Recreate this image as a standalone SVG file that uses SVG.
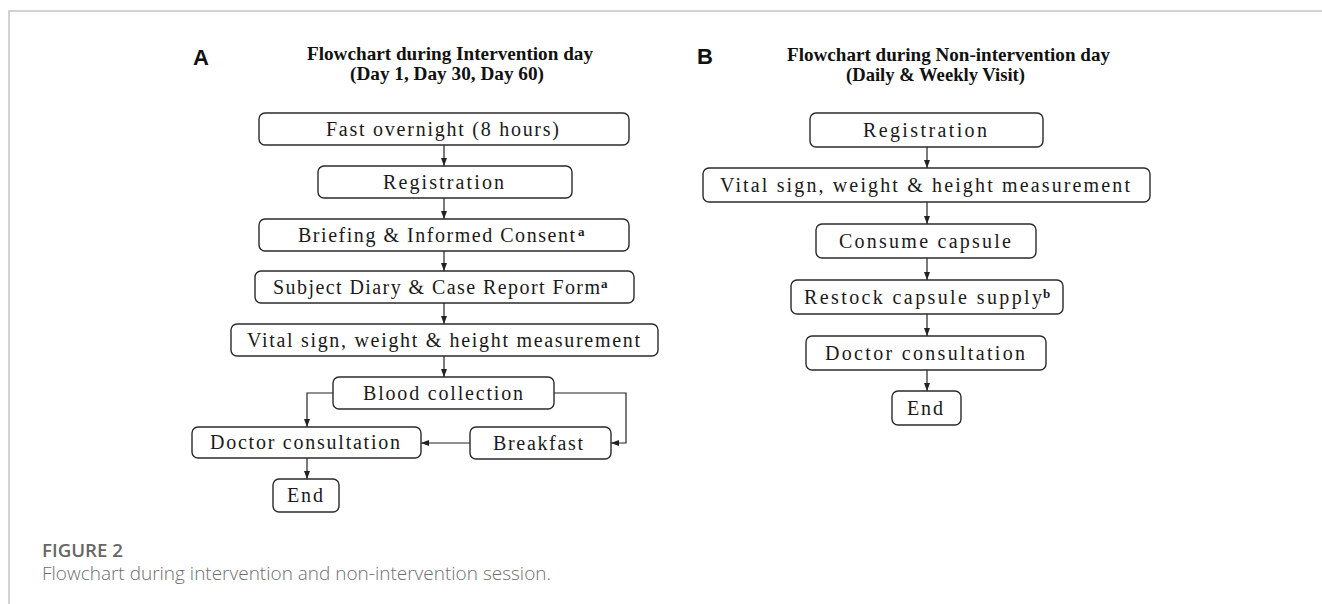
<svg xmlns="http://www.w3.org/2000/svg" width="1322" height="604" viewBox="0 0 1322 604">
<defs>
<style>
.frame{stroke:#c4c4c4;stroke-width:1.5;fill:none}
.box{fill:#fff;stroke:#2a2a2a;stroke-width:1.4}
.t{font-family:"Liberation Serif","Times New Roman",serif;font-size:20px;fill:#1a1a1a}
.sup{font-family:"Liberation Serif","Times New Roman",serif;font-size:13px;font-weight:bold;fill:#1a1a1a}
.title{font-family:"Liberation Serif","Times New Roman",serif;font-size:19px;font-weight:bold;fill:#111}
.lab{font-family:"Liberation Sans",Arial,sans-serif;font-size:22px;font-weight:bold;fill:#111}
.cap1{font-family:"Open Sans","Noto Sans",sans-serif;font-size:18.5px;font-weight:600;fill:#666}
.cap2{font-family:"Open Sans","Noto Sans",sans-serif;font-size:18px;font-weight:300;fill:#6e6e6e}
.c{fill:none;stroke:#222;stroke-width:1.2}
</style>
<marker id="ah" markerUnits="userSpaceOnUse" markerWidth="8" markerHeight="8" viewBox="0 0 8 8" refX="8" refY="4" orient="auto">
<path d="M0,1 L8,4 L0,7 Z" fill="#222"/>
</marker>
</defs>
<rect width="1322" height="604" fill="#fff"/>
<path class="frame" d="M9,604 V11 H1322"/>

<g id="labels">
<text class="lab" x="193" y="65">A</text>
<text class="lab" x="697" y="64">B</text>
<text class="title" x="307" y="60" textLength="286" lengthAdjust="spacingAndGlyphs">Flowchart during Intervention day</text>
<text class="title" x="350" y="80" textLength="194" lengthAdjust="spacingAndGlyphs">(Day 1, Day 30, Day 60)</text>
<text class="title" x="787" y="61" textLength="323" lengthAdjust="spacingAndGlyphs">Flowchart during Non-intervention day</text>
<text class="title" x="846" y="81" textLength="179" lengthAdjust="spacingAndGlyphs">(Daily &amp; Weekly Visit)</text>
</g>

<g id="connectors">
<path class="c" d="M444,145 V166" marker-end="url(#ah)"/>
<path class="c" d="M444,198 V219" marker-end="url(#ah)"/>
<path class="c" d="M444,251 V271" marker-end="url(#ah)"/>
<path class="c" d="M444,303 V324" marker-end="url(#ah)"/>
<path class="c" d="M444,356 V377" marker-end="url(#ah)"/>
<path class="c" d="M333,393 H307 V427" marker-end="url(#ah)"/>
<path class="c" d="M554,393 H626 V443 H611" marker-end="url(#ah)"/>
<path class="c" d="M470,443 H421" marker-end="url(#ah)"/>
<path class="c" d="M307,458 V479" marker-end="url(#ah)"/>
<path class="c" d="M927,147 V168" marker-end="url(#ah)"/>
<path class="c" d="M927,202 V224" marker-end="url(#ah)"/>
<path class="c" d="M927,258 V280" marker-end="url(#ah)"/>
<path class="c" d="M927,314 V336" marker-end="url(#ah)"/>
<path class="c" d="M927,370 V391" marker-end="url(#ah)"/>
</g>

<g id="a-fast"><rect class="box" x="259" y="113" width="370" height="32" rx="6"/><text class="t" x="326" y="136" textLength="233">Fast overnight (8 hours)</text></g>
<g id="a-registration"><rect class="box" x="318" y="166" width="254" height="32" rx="6"/><text class="t" x="383" y="189" textLength="121">Registration</text></g>
<g id="a-briefing"><rect class="box" x="259" y="219" width="370" height="32" rx="6"/><text class="t" x="298" y="242" textLength="277">Briefing &amp; Informed Consent</text><text class="sup" x="578" y="236">a</text></g>
<g id="a-diary"><rect class="box" x="255" y="271" width="379" height="32" rx="6"/><text class="t" x="273" y="294" textLength="327">Subject Diary &amp; Case Report Form</text><text class="sup" x="601" y="288">a</text></g>
<g id="a-vital"><rect class="box" x="231" y="324" width="427" height="32" rx="6"/><text class="t" x="247" y="347" textLength="393">Vital sign, weight &amp; height measurement</text></g>
<g id="a-blood"><rect class="box" x="333" y="377" width="221" height="32" rx="6"/><text class="t" x="363" y="400" textLength="160">Blood collection</text></g>
<g id="a-doctor"><rect class="box" x="192" y="427" width="229" height="31" rx="6"/><text class="t" x="210" y="449" textLength="190">Doctor consultation</text></g>
<g id="a-breakfast"><rect class="box" x="470" y="427" width="141" height="32" rx="6"/><text class="t" x="493" y="450" textLength="90">Breakfast</text></g>
<g id="a-end"><rect class="box" x="273" y="479" width="66" height="33" rx="6"/><text class="t" x="287" y="502" textLength="36">End</text></g>

<g id="b-registration"><rect class="box" x="810" y="113" width="233" height="34" rx="6"/><text class="t" x="863" y="137" textLength="124">Registration</text></g>
<g id="b-vital"><rect class="box" x="703" y="168" width="447" height="34" rx="6"/><text class="t" x="720" y="192" textLength="410">Vital sign, weight &amp; height measurement</text></g>
<g id="b-consume"><rect class="box" x="816" y="224" width="220" height="34" rx="6"/><text class="t" x="839" y="248" textLength="172">Consume capsule</text></g>
<g id="b-restock"><rect class="box" x="791" y="280" width="272" height="34" rx="6"/><text class="t" x="804" y="304" textLength="238">Restock capsule supply</text><text class="sup" x="1043" y="298">b</text></g>
<g id="b-doctor"><rect class="box" x="806" y="336" width="240" height="34" rx="6"/><text class="t" x="825" y="360" textLength="200">Doctor consultation</text></g>
<g id="b-end"><rect class="box" x="892" y="391" width="69" height="34" rx="6"/><text class="t" x="907" y="415" textLength="36">End</text></g>

<g id="caption">
<text class="cap1" x="42" y="557" textLength="81" lengthAdjust="spacingAndGlyphs">FIGURE 2</text>
<text class="cap2" x="42" y="580" textLength="509" lengthAdjust="spacingAndGlyphs">Flowchart during intervention and non-intervention session.</text>
</g>
</svg>
